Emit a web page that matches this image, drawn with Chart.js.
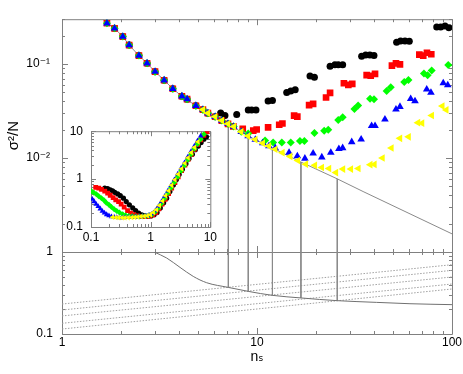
<!DOCTYPE html>
<html>
<head>
<meta charset="utf-8">
<script src="https://cdn.jsdelivr.net/npm/chart.js@4.4.1/dist/chart.umd.min.js"></script>
<style>
  html, body { margin: 0; padding: 0; background: #fff; }
  #wrap { position: relative; width: 463px; height: 374px; }
  canvas { position: absolute; }
  #top, #bot { left: 0; top: 0; }
  #inset { left: 60px; top: 116px; }
</style>
</head>
<body>
<div id="wrap">
  <canvas id="top" width="463" height="374"></canvas>
  <canvas id="bot" width="463" height="374"></canvas>
  <canvas id="inset" width="160" height="130"></canvas>
</div>
<script>
// ---- データ ----

// 上段: 理論曲線（灰色の実線）
const theoryN = [1.62, 1.70, 1.86, 2.05, 2.21, 2.48, 2.73, 3.00, 3.34, 3.70, 4.12, 4.86, 5.30, 6.20, 7.13, 9.02, 12.0, 16.8, 25.8, 35.0, 100];
const theoryV = [0.30, 0.272, 0.240, 0.196, 0.159, 0.123, 0.102, 0.083, 0.0673, 0.0546, 0.0454, 0.0360, 0.0313, 0.0267, 0.0230, 0.0171, 0.0128, 0.00906, 0.0060, 0.0044, 0.00156];

// 理論曲線に乗っている点（全系列共通の前半部分）
const onLineN = [1.70, 1.86, 2.05, 2.21, 2.48, 2.73, 3.00, 3.34, 3.70, 4.12, 4.38, 4.86, 5.28, 5.60, 6.10, 6.60, 7.10, 7.60, 8.30, 9.00, 9.80, 10.7, 11.5, 12.4, 13.5, 14.8, 16.2, 17.8];
const onLineV = [0.272, 0.240, 0.196, 0.159, 0.123, 0.102, 0.083, 0.0673, 0.0546, 0.0454, 0.0423, 0.0360, 0.0327, 0.0300, 0.0275, 0.0250, 0.0231, 0.0216, 0.0190, 0.0171, 0.0157, 0.0144, 0.0134, 0.0124, 0.0114, 0.0104, 0.0094, 0.0086];

// 各系列が理論曲線から離れた後の点
const blackN = [6.51, 6.85, 7.87, 9.02, 9.39, 9.88, 11.4, 12.0, 14.2, 14.9, 15.7, 18.7, 19.7, 23.7, 25.1, 26.1, 27.5, 34.4, 36.1, 37.9, 39.8, 52.0, 54.5, 57.4, 60.4, 83.5, 87.5, 92.1, 96.5];
const blackV = [0.0301, 0.0283, 0.0290, 0.0325, 0.0325, 0.0325, 0.0404, 0.0410, 0.0498, 0.0518, 0.0534, 0.0745, 0.0723, 0.0948, 0.0984, 0.0984, 0.0984, 0.121, 0.125, 0.125, 0.123, 0.171, 0.176, 0.176, 0.175, 0.248, 0.248, 0.254, 0.244];
const redN = [7.56, 8.45, 9.57, 9.96, 11.4, 13.0, 13.5, 15.5, 16.1, 18.5, 19.4, 22.6, 23.7, 27.9, 29.4, 30.8, 36.5, 38.3, 40.3, 49.2, 51.6, 54.1, 68.0, 71.2, 74.4, 78.3];
const redV = [0.0217, 0.0204, 0.0196, 0.0201, 0.0212, 0.0226, 0.0233, 0.0283, 0.0276, 0.0366, 0.0377, 0.0440, 0.0494, 0.0624, 0.0600, 0.0614, 0.0762, 0.0751, 0.0787, 0.0961, 0.1017, 0.0993, 0.126, 0.123, 0.132, 0.127];
const greenN = [9.02, 11.0, 12.1, 13.4, 14.9, 16.6, 17.5, 19.7, 22.1, 23.2, 26.1, 27.5, 31.6, 33.0, 38.0, 39.8, 46.2, 48.5, 56.9, 59.8, 71.8, 75.0, 78.7, 95.7];
const greenV = [0.0182, 0.0154, 0.0146, 0.0146, 0.0146, 0.0152, 0.0152, 0.0185, 0.0195, 0.0200, 0.0254, 0.0272, 0.0333, 0.0362, 0.0426, 0.0423, 0.0517, 0.0568, 0.0643, 0.0678, 0.0792, 0.0762, 0.0855, 0.0977];
const blueN = [12.4, 14.6, 16.1, 17.6, 19.4, 21.5, 23.9, 26.3, 27.5, 30.6, 34.2, 38.7, 40.3, 45.3, 51.6, 54.1, 61.4, 64.6, 74.2, 78.0, 90.2, 95.1];
const blueV = [0.0128, 0.0114, 0.0105, 0.0099, 0.0112, 0.0102, 0.0114, 0.0125, 0.0128, 0.0148, 0.0158, 0.0220, 0.0220, 0.0258, 0.0330, 0.0351, 0.0426, 0.0403, 0.0537, 0.0497, 0.0628, 0.0596];
const yellowN = [19.8, 21.5, 23.4, 25.4, 27.6, 30.3, 33.1, 38.1, 40.0, 44.0, 48.9, 54.1, 59.9, 66.9, 70.2, 78.7, 89.2, 93.5];
const yellowV = [0.00836, 0.00792, 0.00774, 0.0070, 0.00762, 0.00762, 0.00774, 0.0085, 0.00855, 0.0100, 0.0128, 0.0162, 0.0168, 0.0238, 0.0235, 0.0283, 0.0357, 0.0325];
// 共通部分の使用範囲（系列ごとの開始・終了インデックス）
const sharedFrom = [1, 0, 0, 0, 12];
const sharedTo = [15, 17, 19, 23, 28];

// 縦線（最適 n_s）: 上段の理論値と下段の曲線値
const optN = [7.13, 9.02, 12.0, 16.8, 25.8];
const optTopV = [0.0230, 0.0171, 0.0128, 0.00906, 0.0060];
const optBotV = [0.370, 0.331, 0.296, 0.275, 0.255];

// 下段: 実線の曲線
const lowerN = [2.97, 3.44, 4.03, 4.71, 5.52, 7.13, 9.02, 12.0, 16.9, 25.8, 41.1, 60.9, 100];
const lowerV = [1.0, 0.845, 0.649, 0.504, 0.422, 0.370, 0.331, 0.296, 0.275, 0.255, 0.243, 0.234, 0.228];
// 下段: 点線（n=1 と n=100 の値）
const dotEndsN = [1, 100];
const dotLeftV = [0.232, 0.196, 0.166, 0.135, 0.115];
const dotRightV = [0.70, 0.597, 0.496, 0.407, 0.354];

// 挿入図
const inBlackX = [0.17, 0.19, 0.21, 0.23, 0.25, 0.28, 0.31, 0.35, 0.39, 0.44, 0.50, 0.56, 0.63, 0.71, 0.80, 0.90, 1.01, 1.14, 1.28, 1.45, 1.65, 1.85, 2.1, 2.4, 2.7, 3.0, 3.4, 3.9, 4.4, 5.0, 5.6, 6.3, 7.0, 7.8, 8.6];
const inBlackY = [0.65, 0.63, 0.60, 0.57, 0.53, 0.49, 0.45, 0.40, 0.34, 0.29, 0.25, 0.22, 0.195, 0.18, 0.17, 0.167, 0.17, 0.18, 0.20, 0.25, 0.32, 0.40, 0.55, 0.75, 0.98, 1.25, 1.6, 2.1, 2.7, 3.3, 4.1, 4.9, 5.8, 6.8, 7.6];
const inRedX = [0.12, 0.135, 0.15, 0.17, 0.19, 0.21, 0.235, 0.26, 0.29, 0.32, 0.36, 0.41, 0.46, 0.52, 0.59, 0.67, 0.76, 0.86, 0.97, 1.09, 1.22, 1.37, 1.55, 1.75, 2.0, 2.25, 2.55, 2.9, 3.3, 3.75, 4.25, 4.8, 5.4, 6.1, 6.9, 7.8, 8.8];
const inRedY = [0.67, 0.65, 0.61, 0.56, 0.51, 0.46, 0.41, 0.37, 0.34, 0.30, 0.26, 0.22, 0.195, 0.18, 0.17, 0.167, 0.165, 0.166, 0.17, 0.18, 0.20, 0.24, 0.30, 0.38, 0.50, 0.65, 0.85, 1.12, 1.5, 1.95, 2.6, 3.3, 4.2, 5.3, 6.6, 8.2, 9.8];
const inGreenX = [0.102, 0.112, 0.123, 0.135, 0.15, 0.165, 0.18, 0.20, 0.22, 0.245, 0.27, 0.30, 0.34, 0.38, 0.43, 0.49, 0.56, 0.64, 0.73, 0.83, 0.94, 1.06, 1.2, 1.35, 1.52, 1.72, 1.95, 2.2, 2.5, 2.85, 3.25, 3.7, 4.2, 4.75, 5.4, 6.1, 6.9, 7.8];
const inGreenY = [0.56, 0.52, 0.48, 0.44, 0.40, 0.36, 0.32, 0.29, 0.26, 0.235, 0.215, 0.20, 0.185, 0.176, 0.17, 0.167, 0.165, 0.165, 0.167, 0.17, 0.175, 0.185, 0.21, 0.25, 0.31, 0.40, 0.51, 0.66, 0.86, 1.12, 1.5, 1.95, 2.55, 3.3, 4.3, 5.4, 6.8, 8.6];
const inBlueX = [0.105, 0.113, 0.122, 0.132, 0.143, 0.155, 0.168, 0.183, 0.20, 0.22, 0.245, 0.27, 0.30, 0.34, 0.38, 0.43, 0.49, 0.56, 0.64, 0.73, 0.83, 0.94, 1.06, 1.2, 1.35, 1.52, 1.72, 1.95, 2.2, 2.5, 2.85, 3.25, 3.7, 4.2, 4.75, 5.4, 6.1, 6.9];
const inBlueY = [0.38, 0.34, 0.30, 0.27, 0.24, 0.215, 0.197, 0.182, 0.172, 0.165, 0.16, 0.158, 0.157, 0.157, 0.158, 0.159, 0.16, 0.162, 0.164, 0.167, 0.17, 0.176, 0.19, 0.22, 0.27, 0.34, 0.44, 0.57, 0.74, 0.97, 1.28, 1.7, 2.2, 2.9, 3.8, 4.9, 6.3, 8.0];
const inYellowX = [0.23, 0.26, 0.29, 0.33, 0.37, 0.42, 0.48, 0.54, 0.61, 0.69, 0.78, 0.88, 0.99, 1.11, 1.25, 1.4, 1.58, 1.78, 2.0, 2.25, 2.55, 2.9, 3.3, 3.75, 4.25, 4.8, 5.45, 6.2];
const inYellowY = [0.16, 0.158, 0.157, 0.156, 0.156, 0.157, 0.158, 0.16, 0.162, 0.165, 0.168, 0.172, 0.18, 0.2, 0.23, 0.28, 0.35, 0.45, 0.57, 0.74, 0.97, 1.27, 1.65, 2.15, 2.8, 3.6, 4.6, 6.0];

// 目盛ラベル
const topYTicks = [0.01, 0.1];
const topYLabels = ["10⁻²", "10⁻¹"];
const botXTicks = [1, 10, 100];
const botXLabels = ["1", "10", "100"];
const botYTicks = [0.1, 1];
const botYLabels = ["0.1", "1"];
const insetTicks = [0.1, 1, 10];
const insetLabels = ["0.1", "1", "10"];

// ---- 見た目 ----
const seriesLook = [
  { color: "#000000", style: "circle", r: 3.5, ri: 2.6, rot: 0 },
  { color: "#ff0000", style: "rect", r: 4.7, ri: 3.4, rot: 0 },
  { color: "#00ff00", style: "rectRot", r: 4.0, ri: 3.0, rot: 0 },
  { color: "#0000ff", style: "triangle", r: 4.4, ri: 3.2, rot: 0 },
  { color: "#ffff00", style: "triangle", r: 4.4, ri: 3.2, rot: -90 },
];
const lineGrey = "#8a8a8a";
const frameGrey = "#808080";

Chart.defaults.font.family = "'Liberation Sans', 'DejaVu Sans', sans-serif";
Chart.defaults.font.size = 12;
Chart.defaults.color = "#000";

// ---- 関数群 ----
function pts(xs, ys) {
  return xs.map((x, i) => ({ x, y: ys[i] }));
}
function isDecade(v) {
  const l = Math.log10(v);
  return Math.abs(l - Math.round(l)) < 1e-6;
}
// 1..9 × 10^k の目盛位置
function logTickValues(lo, hi) {
  const out = [];
  for (let e = Math.floor(Math.log10(lo)); e <= Math.ceil(Math.log10(hi)); e++) {
    for (let m = 1; m < 10; m++) {
      const v = Number((m * Math.pow(10, e)).toPrecision(3));
      if (v >= lo * 0.999 && v <= hi * 1.001) out.push(v);
    }
  }
  return out;
}
function logAxis(min, max, tickVals, tickLabels, pad, size, isX) {
  return {
    type: "logarithmic",
    min, max,
    afterBuildTicks: (s) => { s.ticks = logTickValues(min, max).map((v) => ({ value: v })); },
    afterFit: (s) => { if (isX) s.height = size; else s.width = size; },
    grid: { display: false, drawTicks: false },
    border: { display: false },
    ticks: {
      display: tickVals.length > 0,
      autoSkip: false,
      maxRotation: 0,
      padding: pad,
      callback: (v) => {
        const k = tickVals.findIndex((t) => Math.abs(t / v - 1) < 1e-6);
        return k < 0 ? "" : tickLabels[k];
      },
    },
  };
}

// 枠と内向きの目盛を描くプラグイン
const frameTicks = {
  id: "frameTicks",
  beforeDraw(chart, args, opts) {
    if (!opts.white) return;
    const { ctx, chartArea: a } = chart;
    ctx.save();
    ctx.fillStyle = "#fff";
    ctx.fillRect(a.left, a.top, a.right - a.left + 1, a.bottom - a.top + 1);
    ctx.restore();
  },
  beforeDatasetsDraw(chart, args, opts) {
    const { ctx, chartArea: a, scales } = chart;
    const big = opts.major, small = opts.minor;
    ctx.save();
    ctx.strokeStyle = frameGrey;
    ctx.lineWidth = 1;
    ctx.beginPath();
    scales.x.ticks.forEach((t) => {
      const p = Math.round(scales.x.getPixelForValue(t.value)) + 0.5;
      const len = isDecade(t.value) ? big : small;
      ctx.moveTo(p, a.bottom); ctx.lineTo(p, a.bottom - len);
      ctx.moveTo(p, a.top); ctx.lineTo(p, a.top + len);
    });
    scales.y.ticks.forEach((t) => {
      const p = Math.round(scales.y.getPixelForValue(t.value)) + 0.5;
      const len = isDecade(t.value) ? big : small;
      ctx.moveTo(a.left, p); ctx.lineTo(a.left + len, p);
      ctx.moveTo(a.right, p); ctx.lineTo(a.right - len, p);
    });
    ctx.rect(a.left + 0.5, a.top + 0.5, a.right - a.left, a.bottom - a.top);
    ctx.stroke();
    ctx.restore();
  },
};

function lineSet(data, color, dash, order, smooth) {
  return {
    data, showLine: true, borderColor: color, borderWidth: 1, borderDash: dash || [],
    pointRadius: 0, order: order || 10, cubicInterpolationMode: smooth ? "monotone" : "default",
  };
}
function markerSet(data, look, inset, order) {
  return {
    data,
    showLine: false,
    backgroundColor: look.color,
    borderColor: look.color,
    borderWidth: 0,
    pointStyle: look.style,
    pointRadius: inset ? look.ri : look.r,
    pointRotation: look.rot,
    order,
  };
}
function baseOptions(padding, plugOpts, scales) {
  return {
    responsive: false,
    animation: false,
    events: [],
    layout: { autoPadding: false, padding },
    plugins: { legend: { display: false }, tooltip: { enabled: false }, frameTicks: plugOpts },
    scales,
  };
}

// ---- 上段 ----
const mainN = [blackN, redN, greenN, blueN, yellowN];
const mainV = [blackV, redV, greenV, blueV, yellowV];
const topSets = [lineSet(pts(theoryN, theoryV), lineGrey)];
optN.forEach((n, i) => topSets.push(lineSet([{ x: n, y: optTopV[i] }, { x: n, y: 0.001 }], lineGrey)));
seriesLook.forEach((look, i) => {
  const xs = onLineN.slice(sharedFrom[i], sharedTo[i]).concat(mainN[i]);
  const ys = onLineV.slice(sharedFrom[i], sharedTo[i]).concat(mainV[i]);
  topSets.push(markerSet(pts(xs, ys), look, false, 5 - i));
});

const topY = logAxis(0.001, 0.3, topYTicks, topYLabels, 12, 62, false);
topY.title = { display: true, text: "σ²/N", font: { size: 15 }, padding: { top: 5, bottom: 0 } };
new Chart(document.getElementById("top"), {
  type: "scatter",
  data: { datasets: topSets },
  options: baseOptions({ left: 0, right: 11, top: 8, bottom: 0 }, { major: 6, minor: 3 }, {
    x: logAxis(1, 100, [], [], 0, 122, true),
    y: topY,
  }),
  plugins: [frameTicks],
});

// ---- 下段 ----
const botSets = [lineSet(pts(lowerN, lowerV), "#707070", null, 5, true)];
optN.forEach((n, i) => botSets.push(lineSet([{ x: n, y: 1 }, { x: n, y: optBotV[i] }], lineGrey, null, 6)));
dotLeftV.forEach((v, i) => botSets.push(lineSet(pts(dotEndsN, [v, dotRightV[i]]), "#a0a0a0", [1.5, 1.5], 7)));

const botX = logAxis(1, 100, botXTicks, botXLabels, 1, 40, true);
botX.title = { display: true, text: "nₛ", font: { size: 14 }, padding: { top: 0, bottom: 8 } };
new Chart(document.getElementById("bot"), {
  type: "scatter",
  data: { datasets: botSets },
  options: baseOptions({ left: 0, right: 11, top: 252, bottom: 0 }, { major: 6, minor: 3 }, {
    x: botX,
    y: logAxis(0.1, 1, botYTicks, botYLabels, 9, 62, false),
  }),
  plugins: [frameTicks],
});

// ---- 挿入図 ----
const inX = [inBlackX, inRedX, inGreenX, inBlueX, inYellowX];
const inY = [inBlackY, inRedY, inGreenY, inBlueY, inYellowY];
const insetSets = seriesLook.map((look, i) => markerSet(pts(inX[i], inY[i]), look, true, 5 - i));
new Chart(document.getElementById("inset"), {
  type: "scatter",
  data: { datasets: insetSets },
  options: baseOptions({ left: 0, right: 8, top: 12, bottom: 0 }, { major: 5, minor: 3, white: true }, {
    x: logAxis(0.1, 10, insetTicks, insetLabels, 3, 19, true),
    y: logAxis(0.1, 10, insetTicks, insetLabels, 8, 31, false),
  }),
  plugins: [frameTicks],
});
</script>
</body>
</html>
